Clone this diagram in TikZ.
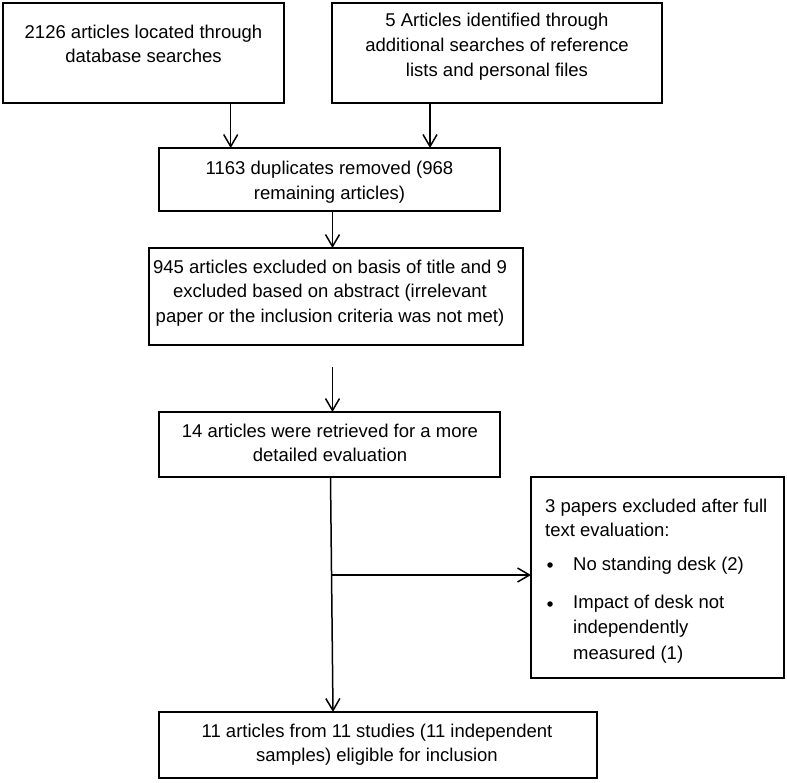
\documentclass[tikz,border=0pt]{standalone}
\usepackage{fontspec}
\setmainfont{Liberation Sans}
\usetikzlibrary{arrows.meta,calc}
\begin{document}
\begin{tikzpicture}[x=1pt,y=-1pt,
  boxnode/.style={draw, line width=2.7pt, rectangle, inner sep=0pt, outer sep=0pt, anchor=north west},
  txt/.style={inner sep=0pt, align=center, font=\fontsize{18.5}{24.7}\selectfont},
  ltxt/.style={inner sep=0pt, anchor=base west, font=\fontsize{18.5}{24.7}\selectfont},
  arr/.style={line width=1.5pt, -{Straight Barb[length=12pt,width=14pt,line width=1.5pt]}},
  bul/.style={circle, fill, inner sep=0pt, minimum size=5.5pt}]
\useasboundingbox (0,0) rectangle (787,782);
% boxes
\node[boxnode, minimum width=281pt, minimum height=100pt] (b1) at (3,3) {};
\node[boxnode, minimum width=330pt, minimum height=100pt] (b2) at (332,3) {};
\node[boxnode, minimum width=341pt, minimum height=63pt] (b3) at (159,148) {};
\node[boxnode, minimum width=374pt, minimum height=97pt] (b4) at (149,248) {};
\node[boxnode, minimum width=341pt, minimum height=65pt] (b5) at (159,412) {};
\node[boxnode, minimum width=253pt, minimum height=201pt] (b6) at (531,477) {};
\node[boxnode, minimum width=438pt, minimum height=66pt] (b7) at (159,712) {};
% texts
\node[txt] (t1) at (143.5,43.9) {2126 articles located through\\database searches};
\node[txt] (t2) at (497,46.9) {5 Articles identified through\\additional searches of reference\\lists and personal files};
\node[txt] (t3) at (329.5,182.3) {1163 duplicates removed (968\\remaining articles)};
\node[txt] (t4) at (330,293.2) {945 articles excluded on basis of title and 9\\excluded based on abstract (irrelevant\\paper or the inclusion criteria was not met)};
\node[txt] (t5) at (330,442.9) {14 articles were retrieved for a more\\detailed evaluation};
\node[txt] (t7) at (377,744.6) {11 articles from 11 studies (11 independent\\samples) eligible for inclusion};
\node[ltxt] (t6a) at (545,512) {3 papers excluded after full};
\node[ltxt] (t6b) at (545,536.5) {text evaluation:};
\node[bul] (d1) at (550,565) {};
\node[ltxt] (t6c) at (573,570) {No standing desk (2)};
\node[bul] (d2) at (550,604) {};
\node[ltxt] (t6d) at (573,608) {Impact of desk not};
\node[ltxt] (t6e) at (573,633) {independently};
\node[ltxt] (t6f) at (573,659) {measured (1)};
% connectors
\coordinate (xa) at (230.7,0);
\coordinate (xb) at (430,0);
\coordinate (xc) at (332.5,0);
\coordinate (s4) at (332.5,367);
\coordinate (v5) at (330.5,0);
\coordinate (v7) at (333,0);
\coordinate (h6) at (332,575);
\draw[arr] (b1.south -| xa) -- (b3.north -| xa);
\draw[arr] (b2.south -| xb) -- (b3.north -| xb);
\draw[arr] (b3.south -| xc) -- (b4.north -| xc);
\draw[arr] (s4) -- (b5.north -| s4);
\draw[arr] (b5.south -| v5) -- (b7.north -| v7);
\draw[arr] (h6) -- (h6 -| b6.west);
\end{tikzpicture}
\end{document}
